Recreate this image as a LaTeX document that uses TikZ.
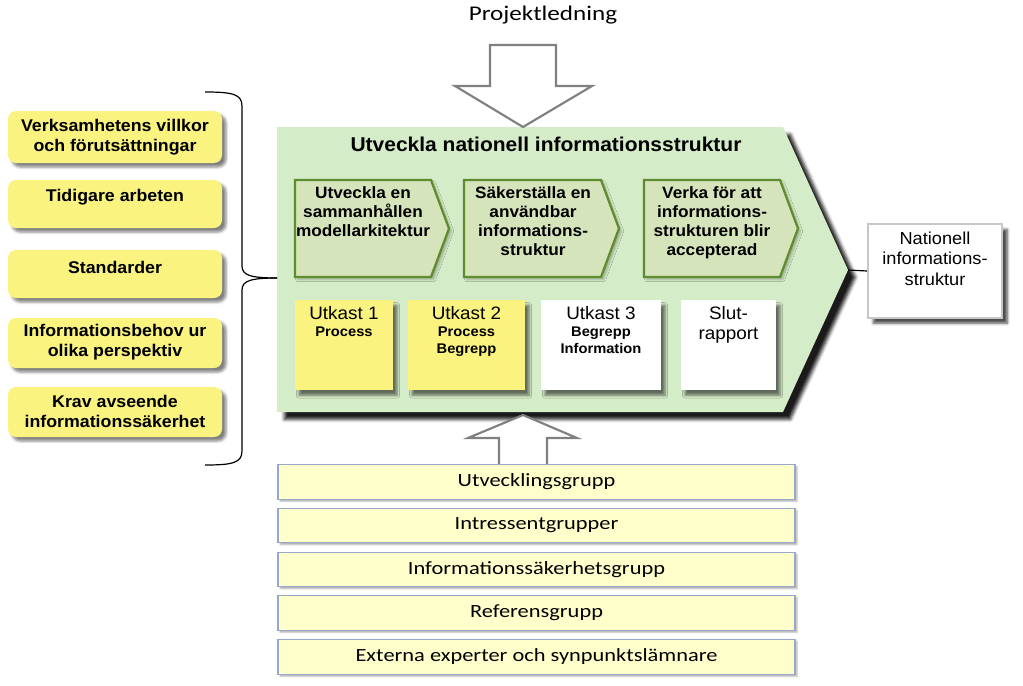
\documentclass[tikz,border=0pt]{standalone}
\usepackage{fontspec}
\setmainfont{Liberation Sans}[FakeStretch=1.05]
\newfontfamily\calib{Carlito}[FakeStretch=1.2]
\usetikzlibrary{shadows.blur}
\definecolor{biggreen}{RGB}{213,236,200}
\definecolor{chevfill}{RGB}{214,228,188}
\definecolor{chevline}{RGB}{96,140,48}
\definecolor{yel}{RGB}{250,243,128}
\definecolor{bandfill}{RGB}{255,255,204}
\definecolor{bandline}{RGB}{150,168,204}
\definecolor{arrgray}{RGB}{128,128,128}
\tikzset{
  leftbox/.style={fill=yel, draw=none, rounded corners=6pt, minimum width=160.5pt,
    inner sep=0pt, blur shadow={shadow xshift=3pt, shadow yshift=-3pt, shadow opacity=50, shadow blur radius=2pt}},
  lefttext/.style={align=center, inner sep=0pt, font=\bfseries\fontsize{12.7}{15}\selectfont},
  chevpath/.style={fill=chevfill, draw=chevline, line width=1.7pt, line join=miter,
    blur shadow={shadow xshift=2pt, shadow yshift=-2pt, shadow opacity=25, shadow blur radius=1.5pt}},
  chevtext/.style={align=center, inner sep=0pt, anchor=north, font=\bfseries\fontsize{12.3}{14.3}\selectfont},
  draftbox/.style={draw=none, minimum height=67.5pt, inner sep=0pt,
    blur shadow={shadow xshift=3pt, shadow yshift=-4pt, shadow opacity=55, shadow blur radius=2pt}},
  drafttext/.style={align=center, inner sep=0pt, anchor=north, font=\bfseries\fontsize{10.5}{12.8}\selectfont},
  band/.style={fill=bandfill, draw=bandline, line width=0.9pt, minimum width=387.75pt, minimum height=26pt,
    inner sep=0pt, font=\calib\fontsize{14}{16}\selectfont,
    blur shadow={shadow xshift=1.5pt, shadow yshift=-1.5pt, shadow opacity=30, shadow blur radius=1pt}},
  blockarrow/.style={fill=white, draw=arrgray, line width=1.6pt, line join=miter},
}
\begin{document}
\begin{tikzpicture}[x=0.75pt,y=-0.75pt]
\useasboundingbox (0,0) rectangle (1023,685);

% top label and arrow
\node[font=\calib\fontsize{15.7}{18}\selectfont, inner sep=0pt] (pl) at (543,15) {Projektledning};

% big green chevron
\path[fill=biggreen, blur shadow={shadow xshift=5.5pt, shadow yshift=-5.5pt, shadow opacity=90, shadow blur radius=2.5pt}]
  (277,127) -- (783,127) -- (848,270) -- (783,412) -- (277,412) -- cycle;
\coordinate (tip) at (848,270);

\draw[blockarrow] (490,45) -- (556,45) -- (556,86) -- (592,86) -- (523,127) -- (455,86) -- (490,86) -- cycle;

\node[font=\bfseries\fontsize{15}{18}\selectfont, inner sep=0pt] (title) at (546,144) {Utveckla nationell informationsstruktur};

% inner chevrons
\draw[chevpath] (295,180) -- (431,180) -- (449,228.5) -- (431,277) -- (295,277) -- cycle;
\node[chevtext] (c1) at (363,186) {Utveckla en\\sammanhållen\\modellarkitektur};
\draw[chevpath] (464,180) -- (601,180) -- (619,228.5) -- (601,277) -- (464,277) -- cycle;
\node[chevtext] (c2) at (533,186) {Säkerställa en\\användbar\\informations-\\struktur};
\draw[chevpath] (644,180) -- (780,180) -- (798,228.5) -- (780,277) -- (644,277) -- cycle;
\node[chevtext] (c3) at (712,186) {Verka för att\\informations-\\strukturen blir\\accepterad};

% draft boxes
\node[draftbox, fill=yel, minimum width=73.5pt] (d1) at (344,345) {};
\node[draftbox, fill=yel, minimum width=87.75pt] (d2) at (466.5,345) {};
\node[draftbox, fill=white, minimum width=90pt] (d3) at (601,345) {};
\node[draftbox, fill=white, minimum width=71.25pt] (d4) at (728.5,345) {};
\node[drafttext] (d1t) at (344,306) {{\mdseries\fontsize{13.5}{15}\selectfont Utkast 1}\\Process};
\node[drafttext] (d2t) at (466.5,306) {{\mdseries\fontsize{13.5}{15}\selectfont Utkast 2}\\Process\\Begrepp};
\node[drafttext] (d3t) at (601,306) {{\mdseries\fontsize{13.5}{15}\selectfont Utkast 3}\\Begrepp\\Information};
\node[drafttext, font=\fontsize{13.5}{15}\selectfont] (d4t) at (728.5,306) {Slut-\\rapport};

% output box
\node[fill=white, draw=black!22, line width=1.5pt, minimum width=100.5pt, minimum height=70.5pt, inner sep=0pt,
  blur shadow={shadow xshift=4pt, shadow yshift=-4pt, shadow opacity=70, shadow blur radius=2pt}] (out) at (935,271) {};
\node[align=center, inner sep=0pt, anchor=north, font=\fontsize{13}{15.5}\selectfont] (outt) at (935,231.5) {Nationell\\informations-\\struktur};
\draw[line width=0.9pt] (tip) -- (out.west);

% left input boxes
\node[leftbox, minimum height=39pt] (b1) at (115,137) {};
\node[leftbox, minimum height=36pt] (b2) at (115,204) {};
\node[leftbox, minimum height=36pt] (b3) at (115,274) {};
\node[leftbox, minimum height=37.5pt] (b4) at (115,343) {};
\node[leftbox, minimum height=37.5pt] (b5) at (115,412) {};
\node[lefttext] (b1t) at (115,137) {Verksamhetens villkor\\och förutsättningar};
\node[lefttext] (b2t) at (115,197) {Tidigare arbeten};
\node[lefttext] (b3t) at (115,267) {Standarder};
\node[lefttext] (b4t) at (115,342) {Informationsbehov ur\\olika perspektiv};
\node[lefttext] (b5t) at (115,411) {Krav avseende\\informationssäkerhet};

% brace
\coordinate (br) at (277,278);
\draw[line width=0.9pt] (205,92) .. controls (232,92) and (242,94) .. (242,106) -- (242,266)
  .. controls (242,275) and (250,278) .. (br);
\draw[line width=0.9pt] (br) .. controls (250,278) and (242,281) .. (242,290) -- (242,451)
  .. controls (242,463) and (232,465) .. (205,465);

% bottom up arrow
\draw[blockarrow] (499,464) -- (499,438) -- (468,438) -- (523,415) -- (577,438) -- (547,438) -- (547,464);

% bands
\node[band] (g1) at (536.5,482) {Utvecklingsgrupp};
\node[band] (g2) at (536.5,525.5) {Intressentgrupper};
\node[band] (g3) at (536.5,569.5) {Informationssäkerhetsgrupp};
\node[band] (g4) at (536.5,613) {Referensgrupp};
\node[band] (g5) at (536.5,657) {Externa experter och synpunktslämnare};
\end{tikzpicture}
\end{document}
